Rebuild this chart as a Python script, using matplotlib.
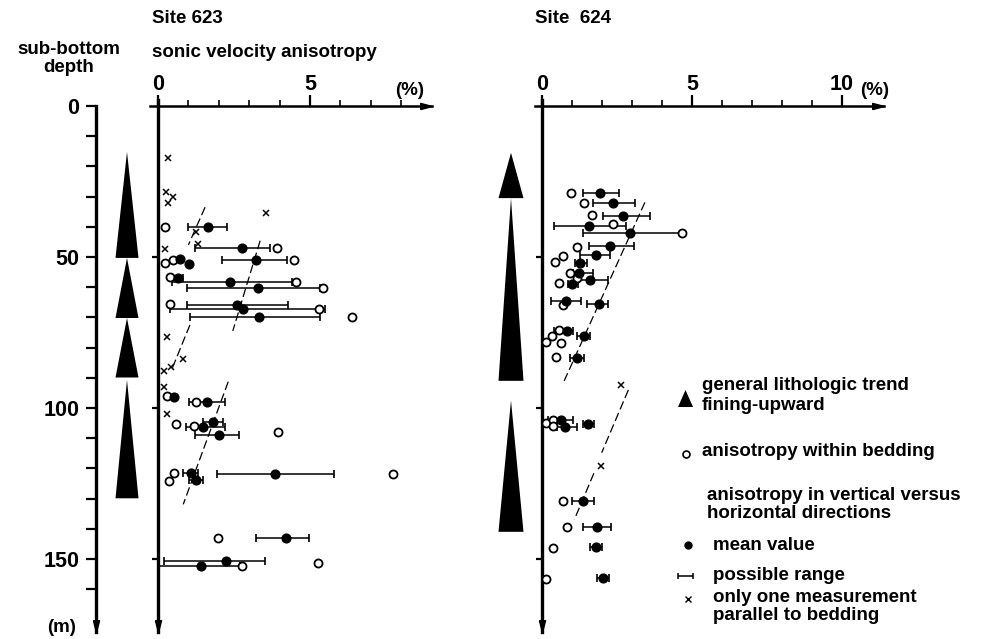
import numpy as np
import matplotlib.pyplot as plt

plt.rcParams['font.family'] = ['Liberation Sans', 'DejaVu Sans']
plt.rcParams['font.weight'] = 'bold'

W, H = 1003, 639
nan = np.nan

# ---------------- Site 623 ----------------
# anisotropy in vertical versus horizontal directions (%): mean + possible range
dep623_mean = [40.2, 47.1, 51.0, 50.8, 52.2, 57.0, 58.4, 60.1, 65.9, 67.2, 70.0,
               96.5, 97.9, 104.5, 106.2, 108.9, 121.4, 121.9, 123.8, 143.2, 150.7, 152.2]
mean623 = [1.63, 2.75, 3.22, 0.72, 1.02, 0.67, 2.37, 3.30, 2.59, 2.79, 3.33,
           0.54, 1.60, 1.82, 1.47, 2.02, 1.09, 3.85, 1.25, 4.20, 2.24, 1.40]
lo623 = [0.99, 1.21, 2.10, nan, nan, 0.45, 0.45, 0.94, 0.94, 0.39, 1.05,
         nan, 1.03, 1.49, 0.91, 1.22, 0.81, 1.93, 1.02, 3.21, 0.20, 0.00]
hi623 = [2.26, 3.68, 4.23, nan, nan, 0.83, 4.40, 5.33, 4.29, 5.49, 5.33,
         nan, 2.20, 2.13, 2.20, 2.67, 1.33, 5.80, 1.47, 4.98, 3.52, 2.70]
# anisotropy within bedding (%)
dep623_bed = [40.0, 47.1, 51.0, 52.1, 51.0, 56.7, 58.4, 60.1, 65.7, 67.2, 70.0,
              96.0, 97.9, 105.3, 105.9, 108.0, 121.6, 121.9, 124.2, 143.0, 151.4, 152.2]
bed623 = [0.23, 3.90, 4.47, 0.23, 0.50, 0.39, 4.55, 5.44, 0.39, 5.30, 6.37,
          0.29, 1.25, 0.58, 1.19, 3.96, 0.54, 7.72, 0.37, 1.96, 5.25, 2.75]
# only one measurement parallel to bedding (%)
dep623_one = [17.3, 28.6, 30.0, 32.0, 35.3, 41.6, 45.7, 47.5, 76.4, 83.9, 86.5, 87.7, 93.1, 102.0]
one623 = [0.32, 0.26, 0.50, 0.34, 3.55, 1.25, 1.33, 0.23, 0.29, 0.83, 0.43, 0.20, 0.21, 0.29]
# dashed trend lines (x start, x end), (depth start, depth end)
trend623_x = [(1.55, 1.00), (3.36, 2.46), (1.05, 0.43), (2.31, 0.83)]
trend623_d = [(33.5, 46.0), (44.6, 74.5), (72.5, 87.8), (91.3, 131.9)]
# fining-upward triangles (apex depth, base depth)
tri623_top = [15.2, 50.3, 70.2, 90.7]
tri623_base = [50.3, 70.2, 89.9, 129.9]

# ---------------- Site 624 ----------------
dep624_mean = [28.7, 32.2, 36.3, 39.7, 42.2, 46.4, 49.3, 51.9, 55.2, 57.6, 58.9, 64.5,
               65.6, 74.4, 76.2, 83.6, 104.0, 106.4, 105.3, 130.7, 139.5, 145.9, 156.4]
mean624 = [1.93, 2.36, 2.71, 1.56, 2.93, 2.27, 1.80, 1.27, 1.24, 1.60, 0.99, 0.79,
           1.90, 0.82, 1.41, 1.18, 0.62, 0.77, 1.54, 1.38, 1.84, 1.79, 2.04]
lo624 = [1.36, 1.71, 2.04, 0.41, 1.36, 1.58, 1.27, 1.10, 1.04, 1.21, 0.88, 0.30,
         1.51, 0.41, 1.16, 0.93, 0.21, 0.49, 1.36, 0.99, 1.38, 1.60, 1.84]
hi624 = [2.57, 3.10, 3.60, 2.80, 4.66, 3.07, 2.27, 1.51, 1.69, 2.21, 1.21, 1.30,
         2.21, 1.04, 1.60, 1.40, 1.02, 1.18, 1.73, 1.73, 2.29, 1.99, 2.24]
dep624_bed = [28.7, 32.2, 36.1, 39.0, 42.2, 46.8, 49.6, 51.8, 55.4, 57.1, 58.7, 65.9,
              74.2, 76.0, 78.3, 78.6, 83.2, 105.1, 104.0, 106.0, 130.7, 139.5, 146.5, 156.7]
bed624 = [0.96, 1.40, 1.68, 2.36, 4.68, 1.18, 0.71, 0.43, 0.93, 1.16, 0.58, 0.69,
          0.58, 0.32, 0.13, 0.63, 0.47, 0.13, 0.38, 0.36, 0.69, 0.84, 0.36, 0.13]
dep624_one = [92.4, 119.2]
one624 = [2.62, 1.97]
trend624_x = [(3.43, 0.74), (2.88, 1.99), (1.73, 1.08)]
trend624_d = [(31.9, 91.0), (94.0, 114.8), (121.6, 136.9)]
tri624_top = [15.5, 30.5, 97.5]
tri624_base = [30.5, 91.0, 141.0]

DEPTH_TOP, DEPTH_BOT = -2.0, 174.2
Y0_PX, M_PX = 106.0, 3.02          # pixel row of 0 m, pixels per metre

down_arrow = [(-0.26, 1.0), (0.26, 1.0), (0.0, 0.0), (-0.26, 1.0)]
right_arrow = [(-1.0, -0.26), (-1.0, 0.26), (0.0, 0.0), (-1.0, -0.26)]


def px_rect(x0, x1):
    y0 = Y0_PX + M_PX * DEPTH_TOP
    y1 = Y0_PX + M_PX * DEPTH_BOT
    return [x0 / W, 1 - y1 / H, (x1 - x0) / W, (y1 - y0) / H]


def site_axes(fig, x0_px, px_per_pct, xmax, major, minor):
    xmin = -0.25
    ax = fig.add_axes(px_rect(x0_px + xmin * px_per_pct, x0_px + xmax * px_per_pct))
    ax.set_facecolor('none')
    ax.set_xlim(xmin, xmax)
    ax.set_ylim(DEPTH_BOT, DEPTH_TOP)
    for s in ('right', 'bottom'):
        ax.spines[s].set_visible(False)
    ax.spines['left'].set_position(('data', 0))
    ax.spines['left'].set_linewidth(2.4)
    ax.spines['top'].set_position(('data', 0))
    ax.spines['top'].set_linewidth(1.8)
    ax.xaxis.set_ticks_position('top')
    ax.set_xticks(major)
    ax.set_xticklabels([str(m) for m in major], fontsize=15.5)
    ax.set_xticks(minor, minor=True)
    ax.tick_params(axis='x', which='major', direction='out', length=8, width=1.6, pad=0)
    ax.tick_params(axis='x', which='minor', direction='out', length=4, width=1.2)
    ax.set_yticks([50, 100, 150])
    ax.set_yticklabels([])
    ax.tick_params(axis='y', which='major', direction='out', length=4, width=1.6)
    ax.plot(0, DEPTH_BOT, marker=down_arrow, ms=17, color='black', clip_on=False)
    ax.plot(xmax, 0, marker=right_arrow, ms=17, color='black', clip_on=False)
    return ax


def draw_site(ax, dep_m, mean, lo, hi, dep_o, val_o, dep_x, val_x, tx, td):
    dep_m, mean, lo, hi = map(np.asarray, (dep_m, mean, lo, hi))
    has = ~np.isnan(lo)
    ax.errorbar(mean[has], dep_m[has], xerr=[mean[has] - lo[has], hi[has] - mean[has]],
                fmt='none', ecolor='black', elinewidth=1.1, capsize=2.8, capthick=1.2,
                zorder=2, clip_on=False)
    for xs, ds in zip(tx, td):
        ax.plot(xs, ds, color='black', lw=0.9, ls=(0, (7, 3)), zorder=1)
    ax.plot(val_o, dep_o, 'o', ms=5.8, mfc='white', mec='black', mew=1.3, ls='none', zorder=3)
    ax.plot(mean, dep_m, 'o', ms=6.3, color='black', ls='none', zorder=4)
    ax.plot(val_x, dep_x, 'x', ms=5, mew=1.1, color='black', ls='none', zorder=3)


def draw_triangles(ax, tops, bases, cx, half):
    for t, b in zip(tops, bases):
        ax.fill([cx - half, cx + half, cx], [b, b, t], color='black', lw=0)


fig = plt.figure(figsize=(W / 100, H / 100), dpi=100)

# depth axis with triangles for site 623
ax0 = fig.add_axes(px_rect(96, 150))
ax0.set_facecolor('none')
ax0.set_xlim(0, 54)
ax0.set_ylim(DEPTH_BOT, DEPTH_TOP)
for s in ('right', 'bottom', 'top'):
    ax0.spines[s].set_visible(False)
ax0.spines['left'].set_bounds(0, DEPTH_BOT)
ax0.spines['left'].set_linewidth(2.4)
ax0.set_xticks([])
ax0.set_yticks([0, 50, 100, 150])
ax0.set_yticklabels(['0', '50', '100', '150'], fontsize=15.5)
ax0.set_yticks([d for d in range(10, 170, 10) if d % 50], minor=True)
ax0.tick_params(axis='y', which='both', direction='out', length=7, width=1.6, pad=5)
ax0.plot(0, DEPTH_BOT, marker=down_arrow, ms=17, color='black', clip_on=False)
draw_triangles(ax0, tri623_top, tri623_base, 31, 11.5)

ax1 = site_axes(fig, 158, 30.4, 9.0, [0, 5], [1, 2, 3, 4, 6, 7, 8])
draw_site(ax1, dep623_mean, mean623, lo623, hi623, dep623_bed, bed623,
          dep623_one, one623, trend623_x, trend623_d)

axt = fig.add_axes(px_rect(486, 536))
axt.set_xlim(0, 50)
axt.set_ylim(DEPTH_BOT, DEPTH_TOP)
axt.axis('off')
draw_triangles(axt, tri624_top, tri624_base, 25, 12.5)

ax2 = site_axes(fig, 542, 30.0, 11.4, [0, 5, 10], [1, 2, 3, 4, 6, 7, 8, 9])
draw_site(ax2, dep624_mean, mean624, lo624, hi624, dep624_bed, bed624,
          dep624_one, one624, trend624_x, trend624_d)

# titles and legend, placed in pixel coordinates
lg = fig.add_axes([0, 0, 1, 1])
lg.set_xlim(0, W)
lg.set_ylim(H, 0)
lg.axis('off')
fs = 13.5
lg.text(152, 23, 'Site 623', fontsize=fs, va='baseline')
lg.text(535, 23, 'Site  624', fontsize=fs, va='baseline')
lg.text(69, 54, 'sub-bottom', fontsize=fs, va='baseline', ha='center')
lg.text(69, 72, 'depth', fontsize=fs, va='baseline', ha='center')
lg.text(152, 57, 'sonic velocity anisotropy', fontsize=fs, va='baseline')
lg.text(395, 95, '(%)', fontsize=fs, va='baseline')
lg.text(860, 95, '(%)', fontsize=fs, va='baseline')
lg.text(62, 628, '(m)', fontsize=fs, va='center', ha='center')

lg.fill([678, 693, 685.5], [407, 407, 390], color='black', lw=0)
lg.text(702, 386, 'general lithologic trend', fontsize=fs, va='center')
lg.text(702, 405, 'fining-upward', fontsize=fs, va='center')
lg.plot(686, 454, 'o', ms=5, mfc='white', mec='black', mew=1.2)
lg.text(702, 452, 'anisotropy within bedding', fontsize=fs, va='center')
lg.text(707, 495, 'anisotropy in vertical versus', fontsize=fs, va='center')
lg.text(707, 514, 'horizontal directions', fontsize=fs, va='center')
lg.plot(688, 545, 'o', ms=5, color='black')
lg.text(713, 545, 'mean value', fontsize=fs, va='center')
lg.errorbar(685, 576, xerr=[[7], [8]], fmt='none', ecolor='black', elinewidth=1.1,
            capsize=2.5, capthick=1.1)
lg.text(713, 576, 'possible range', fontsize=fs, va='center')
lg.plot(688, 599, 'x', ms=4, mew=1.0, color='black')
lg.text(713, 597, 'only one measurement', fontsize=fs, va='center')
lg.text(713, 615, 'parallel to bedding', fontsize=fs, va='center')

fig.savefig('out.png', dpi=100)
